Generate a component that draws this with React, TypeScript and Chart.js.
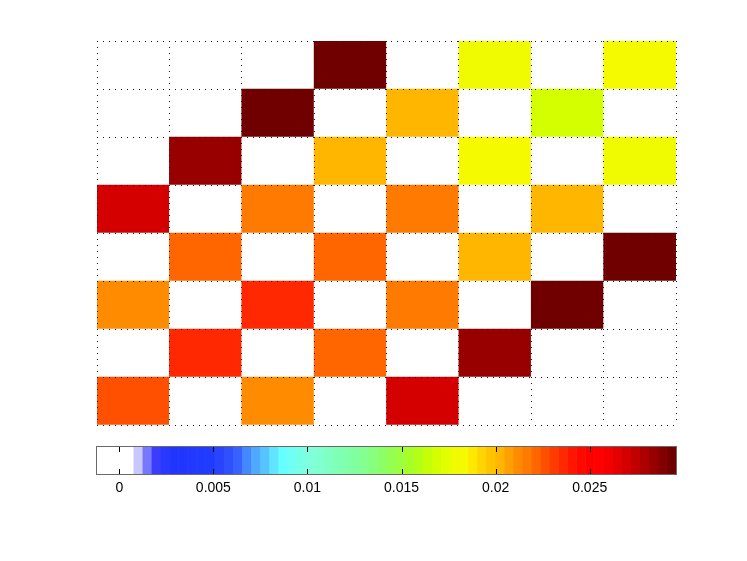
import React, { useEffect, useRef } from 'react';
import { Chart, registerables } from 'chart.js';

Chart.register(...registerables);

// ---- data ----
const columns = ['1', '2', '3', '4', '5', '6', '7', '8'];
// rows listed from top to bottom
const row1 = [0, 0, 0, 0.0293, 0, 0.0178, 0, 0.0183];
const row2 = [0, 0, 0.0293, 0, 0.0202, 0, 0.0168, 0];
const row3 = [0, 0.0284, 0, 0.0202, 0, 0.0183, 0, 0.0178];
const row4 = [0.0269, 0, 0.0217, 0, 0.0217, 0, 0.0202, 0];
const row5 = [0, 0.0221, 0, 0.0221, 0, 0.0202, 0, 0.0293];
const row6 = [0.0212, 0, 0.0236, 0, 0.0217, 0, 0.0293, 0];
const row7 = [0, 0.0236, 0, 0.0221, 0, 0.0284, 0, 0];
const row8 = [0.0226, 0, 0.0212, 0, 0.0269, 0, 0, 0];

const colorMin = -0.001185;
const colorMax = 0.029586;
const colorbarTicks = [0, 0.005, 0.01, 0.015, 0.02, 0.025];
const colorbarLabels = ['0', '0.005', '0.01', '0.015', '0.02', '0.025'];

const colormap = [
  '#FFFFFF', '#FFFFFF', '#FFFFFF', '#FFFFFF', '#C8C8FF', '#7878FF', '#3C3CFF', '#2838FF',
  '#2036FF', '#2036FF', '#2038FF', '#203AFF', '#203CFF', '#2844FF', '#3050FF', '#3862FF',
  '#4488FF', '#50A8FF', '#58C4FF', '#60E4FF', '#66FFFF', '#70FFF4', '#78FFE8', '#80FFDC',
  '#80FFD0', '#80FFC4', '#80FFB8', '#80FFAC', '#80FFA0', '#84FF90', '#88FF7C', '#8CFF68',
  '#94FF50', '#9CFF40', '#A8FF28', '#B4FF18', '#C4FF08', '#D4FF00', '#E2FF00', '#F0FA00',
  '#F6FA00', '#FFE800', '#FFD400', '#FFC400', '#FFB600', '#FFA000', '#FF8C00', '#FF7A00',
  '#FF6600', '#FF5000', '#FF3C00', '#FF2800', '#FF1600', '#FF0800', '#FF0000', '#FF0000',
  '#F40000', '#E40000', '#D40000', '#C00000', '#AC0000', '#980000', '#840000', '#700000',
];

function colorFor(v: number): string {
  const n = colormap.length;
  let i = Math.floor(((v - colorMin) / (colorMax - colorMin)) * n);
  if (i < 0) i = 0;
  if (i > n - 1) i = n - 1;
  return colormap[i];
}

const FONT = '"Liberation Sans", Arial, Helvetica, sans-serif';

export default function App() {
  const heatRef = useRef<HTMLCanvasElement | null>(null);
  const barRef = useRef<HTMLCanvasElement | null>(null);

  useEffect(() => {
    const rowsBottomUp = [row8, row7, row6, row5, row4, row3, row2, row1];
    const heat = new Chart(heatRef.current as HTMLCanvasElement, {
      type: 'bar',
      data: {
        labels: columns,
        datasets: rowsBottomUp.map((row, r) => ({
          label: 'row' + (8 - r),
          data: row.map(() => 1),
          backgroundColor: row.map(colorFor),
          borderWidth: 0,
          barPercentage: 1,
          categoryPercentage: 1,
        })),
      },
      options: {
        responsive: false,
        maintainAspectRatio: false,
        animation: false,
        layout: { padding: { left: 7, top: 7, right: 9, bottom: 9 } },
        plugins: { legend: { display: false }, tooltip: { enabled: false } },
        scales: {
          x: {
            stacked: true,
            ticks: { display: false },
            grid: { color: '#1a1a1a', lineWidth: 1, drawTicks: false, z: 1, offset: true },
            border: { display: false, dash: [1, 5] },
          },
          y: {
            stacked: true,
            min: 0,
            max: 8,
            ticks: { display: false, stepSize: 1 },
            grid: { color: '#1a1a1a', lineWidth: 1, drawTicks: false, z: 1 },
            border: { display: false, dash: [1, 5] },
          },
        },
      },
    });

    const segW = (colorMax - colorMin) / colormap.length;
    const boxPlugin = {
      id: 'cbbox',
      afterDraw(chart: any) {
        const ctx = chart.ctx;
        const a = chart.chartArea;
        const xs = chart.scales.x;
        ctx.save();
        ctx.strokeStyle = '#000';
        ctx.lineWidth = 1;
        colorbarTicks.forEach((v) => {
          const px = Math.round(xs.getPixelForValue(v)) + 0.5;
          ctx.beginPath();
          ctx.moveTo(px, a.top);
          ctx.lineTo(px, a.top + 5);
          ctx.moveTo(px, a.bottom);
          ctx.lineTo(px, a.bottom - 5);
          ctx.stroke();
        });
        ctx.strokeStyle = '#6a6a6a';
        ctx.strokeRect(Math.round(a.left) - 0.5, Math.round(a.top) - 0.5, Math.round(a.right - a.left) + 1, Math.round(a.bottom - a.top) + 1);
        ctx.restore();
      },
    };

    const bar = new Chart(barRef.current as HTMLCanvasElement, {
      type: 'bar',
      data: {
        labels: ['cb'],
        datasets: colormap.map((c, i) => ({
          label: 'c' + i,
          data: [[colorMin + i * segW, colorMin + (i + 1) * segW]] as any,
          backgroundColor: c,
          borderWidth: 0,
          barPercentage: 1,
          categoryPercentage: 1,
          grouped: false,
        })),
      },
      options: {
        indexAxis: 'y',
        responsive: false,
        maintainAspectRatio: false,
        animation: false,
        layout: { padding: { left: 7, top: 7, right: 14, bottom: 7 } },
        plugins: { legend: { display: false }, tooltip: { enabled: false } },
        scales: {
          x: {
            type: 'linear',
            min: colorMin,
            max: colorMax,
            afterBuildTicks: (s: any) => {
              s.ticks = colorbarTicks.map((v) => ({ value: v }));
            },
            afterFit: (s: any) => {
              s.height = 20;
            },
            ticks: {
              color: '#000',
              font: { family: FONT, size: 14 },
              padding: 6,
              maxRotation: 0,
              autoSkip: false,
              callback: (v: any) => {
                const idx = colorbarTicks.indexOf(Number(v));
                return idx >= 0 ? colorbarLabels[idx] : '';
              },
            },
            grid: { display: false, drawTicks: false },
            border: { display: false },
          },
          y: {
            type: 'category',
            display: false,
          },
        },
      },
      plugins: [boxPlugin],
    });

    return () => {
      heat.destroy();
      bar.destroy();
    };
  }, []);

  return (
    <div style={{ position: 'absolute', left: 0, top: 0, width: 747, height: 561, background: '#fff' }}>
      <canvas
        ref={heatRef}
        width={595}
        height={400}
        style={{ position: 'absolute', left: 90, top: 34, width: 595, height: 400 }}
      />
      <canvas
        ref={barRef}
        width={600}
        height={61}
        style={{ position: 'absolute', left: 90, top: 440, width: 600, height: 61 }}
      />
    </div>
  );
}
